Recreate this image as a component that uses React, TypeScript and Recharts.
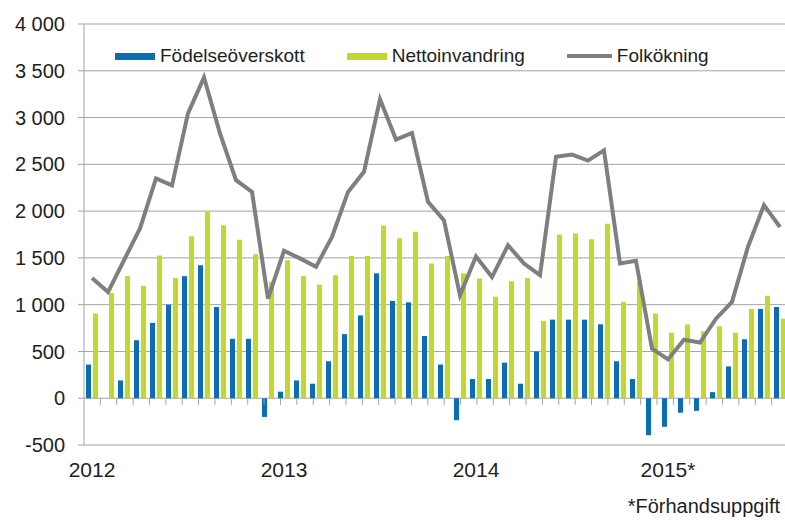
import React from 'react';
import {
  ComposedChart,
  Bar,
  Line,
  XAxis,
  YAxis,
  CartesianGrid,
  Legend,
  ReferenceLine,
} from 'recharts';

const months = [
  '2012M01', '2012M02', '2012M03', '2012M04', '2012M05', '2012M06', '2012M07', '2012M08', '2012M09', '2012M10', '2012M11', '2012M12',
  '2013M01', '2013M02', '2013M03', '2013M04', '2013M05', '2013M06', '2013M07', '2013M08', '2013M09', '2013M10', '2013M11', '2013M12',
  '2014M01', '2014M02', '2014M03', '2014M04', '2014M05', '2014M06', '2014M07', '2014M08', '2014M09', '2014M10', '2014M11', '2014M12',
  '2015M01', '2015M02', '2015M03', '2015M04', '2015M05', '2015M06', '2015M07', '2015M08',
];

const fodelseoverskott = [
  360, 0, 190, 620, 805, 1000, 1305, 1420, 975, 635, 635, -200,
  70, 190, 155, 395, 685, 885, 1335, 1040, 1025, 665, 360, -235,
  205, 205, 380, 155, 500, 840, 840, 840, 790, 395, 205, -395,
  -305, -155, -135, 65, 340, 630, 955, 975,
];

const nettoinvandring = [
  905, 1125, 1305, 1200, 1525, 1285, 1730, 2000, 1850, 1695, 1540, 1245,
  1475, 1305, 1215, 1315, 1520, 1520, 1845, 1710, 1780, 1440, 1520, 1335,
  1280, 1085, 1250, 1285, 825, 1750, 1760, 1700, 1865, 1030, 1250, 905,
  700, 790, 715, 770, 700, 955, 1095, 850,
];

const folkokning = [
  1285, 1135, 1475, 1815, 2350, 2275, 3045, 3430, 2830, 2330, 2205, 1065,
  1575, 1495, 1405, 1725, 2205, 2420, 3195, 2765, 2835, 2100, 1900, 1100,
  1515, 1295, 1635, 1440, 1315, 2580, 2605, 2540, 2650, 1440, 1470, 530,
  415, 625, 595, 850, 1030, 1620, 2065, 1830,
];

const yearTicks = ['2012M01', '2013M01', '2014M01', '2015M01'];
const yearLabels = ['2012', '2013', '2014', '2015*'];
const yTicks = [-500, 0, 500, 1000, 1500, 2000, 2500, 3000, 3500, 4000];

const seriesNames = ['Födelseöverskott', 'Nettoinvandring', 'Folkökning'];
const footnote = '*Förhandsuppgift';

const data = months.map((m, i) => ({
  month: m,
  fod: fodelseoverskott[i],
  netto: nettoinvandring[i],
  folk: folkokning[i],
}));

const halfTicks = Array.from({ length: months.length * 2 }, (_, k) => k + 1);

const FONT = '"Liberation Sans", Arial, Helvetica, sans-serif';
const GRID = '#a3a3a3';
const TEXT = '#1e1e1e';
const BLUE = '#0a6fb2';
const GREEN = '#c3d82f';
const GRAY = '#7f7f7f';

const fmt = (v: number) => {
  const a = Math.abs(v);
  if (a >= 1000) {
    const th = Math.floor(a / 1000);
    const rest = String(a % 1000).padStart(3, '0');
    return `${v < 0 ? '-' : ''}${th}\u00a0${rest}`;
  }
  return String(v);
};

const yearFmt = (v: string) => {
  const idx = yearTicks.indexOf(v);
  return idx >= 0 ? yearLabels[idx] : '';
};

const renderLegend = (props: any) => {
  const items = [...(props.payload || [])].sort(
    (a: any, b: any) => seriesNames.indexOf(a.value) - seriesNames.indexOf(b.value)
  );
  return (
    <div
      style={{
        display: 'flex',
        alignItems: 'center',
        fontFamily: FONT,
        fontSize: 19,
        color: TEXT,
        lineHeight: '22px',
        whiteSpace: 'nowrap',
      }}
    >
      {items.map((it: any, i: number) => (
        <div key={i} style={{ display: 'flex', alignItems: 'center', marginRight: 42 }}>
          {it.type === 'line' ? (
            <span style={{ display: 'inline-block', width: 45, height: 4, background: it.color }} />
          ) : (
            <span style={{ display: 'inline-block', width: 40, height: 7, background: it.color }} />
          )}
          <span style={{ marginLeft: 5 }}>{it.value}</span>
        </div>
      ))}
    </div>
  );
};

export default function App() {
  return (
    <div
      style={{
        position: 'fixed',
        left: 0,
        top: 0,
        width: 785,
        height: 521,
        overflow: 'hidden',
        background: '#ffffff',
      }}
    >
      <ComposedChart
        width={790}
        height={521}
        data={data}
        margin={{ top: 24, right: 2, bottom: 26, left: 0 }}
        barSize={5}
        barGap={2}
      >
        <CartesianGrid vertical={false} stroke={GRID} strokeWidth={1} />
        <XAxis
          dataKey="month"
          ticks={yearTicks}
          interval={0}
          tickFormatter={yearFmt}
          axisLine={false}
          tickLine={false}
          height={50}
          tickMargin={11}
          tick={{ fill: TEXT, fontSize: 21, fontFamily: FONT }}
        />
        <XAxis
          xAxisId="half"
          type="number"
          domain={[0, months.length * 2]}
          allowDataOverflow
          hide
        />
        <YAxis
          domain={[-500, 4000]}
          ticks={yTicks}
          interval={0}
          allowDataOverflow
          tickFormatter={fmt}
          width={84}
          tickSize={6}
          tickMargin={13}
          axisLine={{ stroke: GRID }}
          tickLine={{ stroke: GRID }}
          tick={{ fill: TEXT, fontSize: 20, fontFamily: FONT }}
        />
        {halfTicks.map((k) => (
          <ReferenceLine
            key={k}
            xAxisId="half"
            segment={[
              { x: k, y: 0 },
              { x: k, y: -70 },
            ]}
            stroke={GRID}
            strokeWidth={1}
          />
        ))}
        <Bar dataKey="fod" name={seriesNames[0]} fill={BLUE} isAnimationActive={false} />
        <Bar dataKey="netto" name={seriesNames[1]} fill={GREEN} isAnimationActive={false} />
        <Line
          type="linear"
          dataKey="folk"
          name={seriesNames[2]}
          stroke={GRAY}
          strokeWidth={4}
          dot={false}
          legendType="line"
          isAnimationActive={false}
        />
        <Legend
          layout="vertical"
          verticalAlign="middle"
          align="center"
          wrapperStyle={{ top: 45, left: 115, width: 640, height: 24 }}
          content={renderLegend}
        />
      </ComposedChart>
      <div
        style={{
          position: 'absolute',
          right: 5,
          top: 496,
          fontFamily: FONT,
          fontSize: 20,
          lineHeight: '20px',
          color: TEXT,
          whiteSpace: 'nowrap',
        }}
      >
        {footnote}
      </div>
    </div>
  );
}
